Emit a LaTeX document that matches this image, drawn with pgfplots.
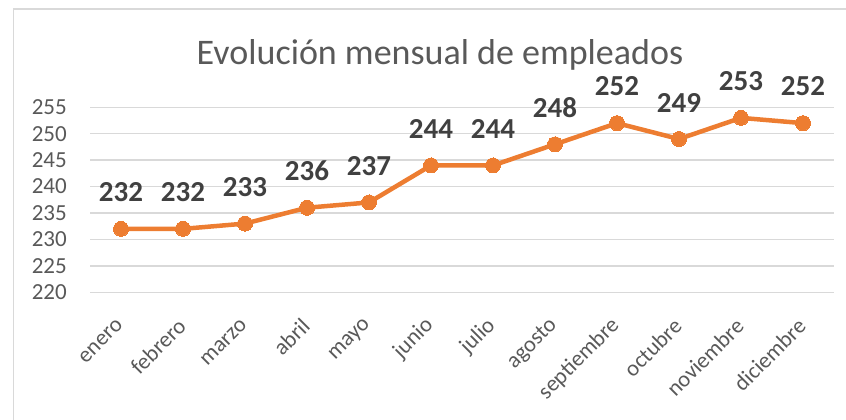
\documentclass[border=0pt]{standalone}
\usepackage{fontspec}
\setmainfont{Carlito}
\usepackage{pgfplots}
\pgfplotsset{compat=1.18}
\definecolor{excelorange}{HTML}{ED7D31}
\definecolor{textgray}{HTML}{595959}
\definecolor{labelgray}{HTML}{404040}
\definecolor{gridgray}{HTML}{D9D9D9}

\begin{document}
\begin{tikzpicture}[x=1pt,y=1pt]
  \useasboundingbox (0,0) rectangle (846,420);
  % chart frame (cut off at right and bottom)
  \draw[gridgray, line width=1.5pt] (13.5,-10) -- (13.5,411) -- (880,411);
  \node[anchor=base, inner sep=0pt, text=textgray,
        font=\fontsize{36}{42}\selectfont] at (440,355)
        {Evolución mensual de empleados};
  \begin{axis}[
      at={(90pt,127.7pt)}, anchor=south west,
      scale only axis,
      width=744pt, height=185pt,
      xmin=-0.5, xmax=11.5,
      ymin=220, ymax=255,
      ytick={220,225,230,235,240,245,250,255},
      xtick={0,...,11},
      xticklabels={enero,febrero,marzo,abril,mayo,junio,julio,agosto,
        septiembre,octubre,noviembre,diciembre},
      axis line style={draw=none},
      major tick length=0pt,
      ymajorgrids,
      grid style={gridgray, line width=1.5pt},
      /pgf/number format/assume math mode=true,
      tick label style={text=textgray, inner sep=0pt},
      yticklabel style={font=\fontsize{23}{27}\selectfont,
        anchor=east, xshift=-23pt},
      xticklabel style={font=\fontsize{22.5}{27}\selectfont,
        xshift=-1pt, yshift=-30pt, rotate=45, anchor=east},
      clip=false,
      nodes near coords,
      nodes near coords style={anchor=south, inner sep=0pt, yshift=27pt,
        text=labelgray, font=\bfseries\fontsize{29}{34}\selectfont},
    ]
    \addplot[excelorange, line width=4.5pt, mark=*,
      mark options={fill=excelorange, draw=excelorange, line width=0pt},
      mark size=7.5pt]
      coordinates {
        (0,232)(1,232)(2,233)(3,236)(4,237)(5,244)
        (6,244)(7,248)(8,252)(9,249)(10,253)(11,252)
      };
  \end{axis}
\end{tikzpicture}
\end{document}
